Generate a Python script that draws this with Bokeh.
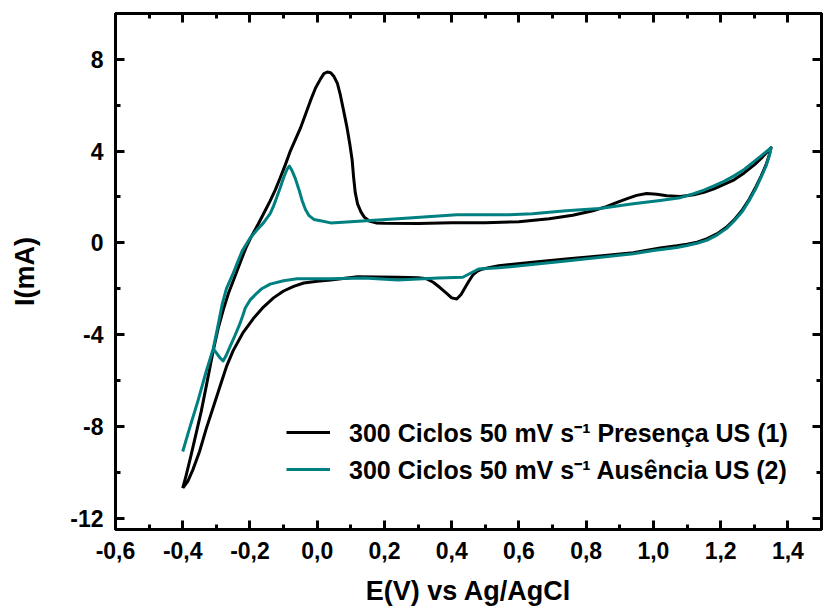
from bokeh.plotting import figure
from bokeh.models import Range1d, FixedTicker, LinearAxis, CustomJSTickFormatter, Legend, LegendItem
from bokeh.embed import file_html
from bokeh.resources import INLINE

# Curve (1): 300 Ciclos 50 mV s-1 Presença US  (anodic then cathodic sweep)
E1 = [-0.40, -0.39, -0.375, -0.36, -0.345, -0.33, -0.31, -0.295, -0.279, -0.264, -0.243, -0.225,
      -0.21, -0.195, -0.175, -0.155, -0.14, -0.125, -0.11, -0.095, -0.08, -0.065, -0.05, -0.035,
      -0.02, -0.005, 0.01, 0.02, 0.03, 0.04, 0.05, 0.06, 0.068, 0.078, 0.089, 0.097, 0.104, 0.108,
      0.113, 0.12, 0.13, 0.14, 0.155, 0.175, 0.20, 0.30, 0.40, 0.50, 0.60, 0.69, 0.76, 0.82, 0.86,
      0.89, 0.92, 0.95, 0.98, 1.01, 1.04, 1.08, 1.12, 1.15, 1.18, 1.21, 1.24, 1.27, 1.30, 1.325,
      1.35,
      1.345, 1.335, 1.32, 1.305, 1.285, 1.265, 1.24, 1.217, 1.19, 1.16, 1.13, 1.10, 1.07, 1.02,
      0.94, 0.84, 0.74, 0.64, 0.54, 0.51, 0.49, 0.475, 0.463, 0.45, 0.44, 0.428, 0.415, 0.40,
      0.385, 0.365, 0.345, 0.326, 0.30, 0.24, 0.12, 0.04, 0.0, -0.04, -0.07, -0.10, -0.13, -0.16,
      -0.19, -0.22, -0.25, -0.27, -0.29, -0.31, -0.33, -0.35, -0.37, -0.385, -0.40]
I1 = [-10.7, -10.15, -9.25, -8.3, -7.35, -6.25, -4.75, -3.75, -2.9, -2.2, -1.4, -0.7,
      -0.15, 0.3, 0.83, 1.4, 1.83, 2.3, 2.84, 3.4, 4.0, 4.5, 5.0, 5.6,
      6.2, 6.75, 7.15, 7.38, 7.45, 7.42, 7.25, 6.95, 6.5, 5.8, 5.0, 4.3, 3.6, 2.9,
      2.2, 1.7, 1.35, 1.12, 0.95, 0.87, 0.85, 0.84, 0.88, 0.88, 0.92, 1.05, 1.2, 1.4, 1.58,
      1.75, 1.92, 2.07, 2.15, 2.12, 2.05, 2.02, 2.1, 2.2, 2.35, 2.55, 2.75, 3.05, 3.4, 3.75,
      4.15,
      3.85, 3.4, 2.9, 2.45, 1.9, 1.45, 1.0, 0.68, 0.4, 0.18, 0.03, -0.06, -0.13, -0.22,
      -0.43, -0.57, -0.7, -0.85, -1.0, -1.08, -1.15, -1.25, -1.4, -1.7, -1.95, -2.25, -2.45, -2.4,
      -2.2, -1.95, -1.72, -1.57, -1.52, -1.5, -1.48, -1.62, -1.68, -1.75, -1.9, -2.1, -2.4, -2.8,
      -3.3, -3.9, -4.7, -5.4, -6.3, -7.2, -8.1, -9.1, -9.9, -10.4, -10.7]

# Curve (2): 300 Ciclos 50 mV s-1 Ausência US
E2 = [-0.40, -0.38, -0.355, -0.33, -0.309, -0.295, -0.283, -0.27, -0.252, -0.237, -0.223, -0.20,
      -0.18, -0.16, -0.14, -0.13, -0.12, -0.11, -0.10, -0.09, -0.083, -0.075, -0.065, -0.055,
      -0.045, -0.035, -0.025, -0.01, 0.01, 0.04, 0.10, 0.24, 0.415, 0.57, 0.64, 0.74, 0.84, 0.94,
      1.02, 1.08, 1.12, 1.15, 1.18, 1.21, 1.24, 1.27, 1.30, 1.325, 1.35,
      1.345, 1.335, 1.32, 1.305, 1.285, 1.265, 1.24, 1.217, 1.19, 1.16, 1.13, 1.10, 1.07, 1.0,
      0.94, 0.74, 0.54, 0.48, 0.433, 0.36, 0.24, 0.14, 0.04, -0.06, -0.10, -0.14, -0.165, -0.18,
      -0.20, -0.214, -0.222, -0.232, -0.245, -0.26, -0.272, -0.28, -0.29, -0.30, -0.31]
I2 = [-9.1, -8.1, -6.9, -5.6, -4.6, -3.6, -2.7, -2.0, -1.4, -0.85, -0.35, 0.2,
      0.55, 0.87, 1.27, 1.6, 2.0, 2.4, 2.84, 3.2, 3.35, 3.15, 2.8, 2.35,
      1.85, 1.45, 1.2, 1.02, 0.96, 0.87, 0.92, 1.05, 1.22, 1.22, 1.27, 1.4, 1.5, 1.7,
      1.85, 1.97, 2.14, 2.3, 2.48, 2.68, 2.92, 3.2, 3.55, 3.85, 4.15,
      3.8, 3.35, 2.85, 2.38, 1.85, 1.38, 0.95, 0.62, 0.35, 0.12, -0.02, -0.12, -0.2, -0.33,
      -0.48, -0.79, -1.09, -1.14, -1.5, -1.53, -1.62, -1.53, -1.57, -1.57, -1.65, -1.8, -2.0, -2.2,
      -2.5, -2.84, -3.2, -3.6, -4.05, -4.55, -4.95, -5.15, -5.0, -4.8, -4.6]

x_ticks = [-0.6, -0.4, -0.2, 0.0, 0.2, 0.4, 0.6, 0.8, 1.0, 1.2, 1.4]
x_minor = [round(-0.6 + 0.1 * i, 1) for i in range(22)]
y_ticks = [-12, -8, -4, 0, 4, 8]
y_minor = [-12, -10, -8, -6, -4, -2, 0, 2, 4, 6, 8, 10]

labels = ["300 Ciclos 50 mV s\u207b\u00b9 Presença US (1)",
          "300 Ciclos 50 mV s\u207b\u00b9 Ausência US (2)"]
colors = ["#000000", "#008080"]

FONT = "Liberation Sans"

p = figure(width=823, height=609, output_backend="svg", toolbar_location=None,
           x_range=Range1d(-0.6, 1.5), y_range=Range1d(-12.5, 10),
           min_border_left=115, min_border_right=2, min_border_top=13, min_border_bottom=80)
p.xgrid.visible = False
p.ygrid.visible = False
p.outline_line_color = "black"
p.outline_line_width = 3
p.background_fill_color = "white"
p.border_fill_color = "white"

r1 = p.line(E1, I1, line_color=colors[0], line_width=3, line_join="round")
r2 = p.line(E2, I2, line_color=colors[1], line_width=3, line_join="round")

comma_fmt = CustomJSTickFormatter(code="return tick.toFixed(1).replace('.', ',');")
int_fmt = CustomJSTickFormatter(code="return Math.round(tick).toString();")
blank_fmt = CustomJSTickFormatter(code="return '';")

def style_axis(ax, show_labels):
    ax.axis_line_width = 3
    ax.axis_line_color = "black"
    ax.major_tick_line_width = 3
    ax.minor_tick_line_width = 3
    ax.major_tick_in = 9
    ax.major_tick_out = 0
    ax.minor_tick_in = 5
    ax.minor_tick_out = 0
    ax.major_label_text_font = FONT
    ax.major_label_text_font_style = "bold"
    ax.major_label_text_font_size = "23px" if show_labels else "0px"
    ax.major_label_text_color = "black"
    ax.axis_label_text_font = FONT
    ax.axis_label_text_font_style = "bold"
    ax.axis_label_text_font_size = "27px"
    ax.axis_label_text_color = "black"

xa = p.xaxis[0]
xa.ticker = FixedTicker(ticks=x_ticks, minor_ticks=x_minor)
xa.formatter = comma_fmt
xa.axis_label = "E(V) vs Ag/AgCl"
style_axis(xa, True)
xa.major_label_standoff = 12
xa.axis_label_standoff = 14

ya = p.yaxis[0]
ya.ticker = FixedTicker(ticks=y_ticks, minor_ticks=y_minor)
ya.formatter = int_fmt
ya.axis_label = "I(mA)"
style_axis(ya, True)
ya.major_label_standoff = 12
ya.axis_label_standoff = 27

top = LinearAxis(ticker=FixedTicker(ticks=x_ticks, minor_ticks=x_minor), formatter=blank_fmt)
style_axis(top, False)
top.major_label_standoff = 0
p.add_layout(top, "above")

right = LinearAxis(ticker=FixedTicker(ticks=y_ticks, minor_ticks=y_minor), formatter=blank_fmt)
style_axis(right, False)
right.major_label_standoff = 0
p.add_layout(right, "right")

legend = Legend(items=[LegendItem(label=labels[0], renderers=[r1]),
                       LegendItem(label=labels[1], renderers=[r2])],
                location=(171, 43), orientation="vertical")
legend.border_line_color = None
legend.background_fill_alpha = 0
legend.padding = 0
legend.margin = 0
legend.spacing = 3
legend.glyph_width = 44
legend.glyph_height = 24
legend.label_height = 24
legend.label_standoff = 19
legend.label_text_font = FONT
legend.label_text_font_style = "bold"
legend.label_text_font_size = "25px"
legend.label_text_color = "black"
p.add_layout(legend, "center")

open("out.html", "w").write(file_html(p, INLINE))
